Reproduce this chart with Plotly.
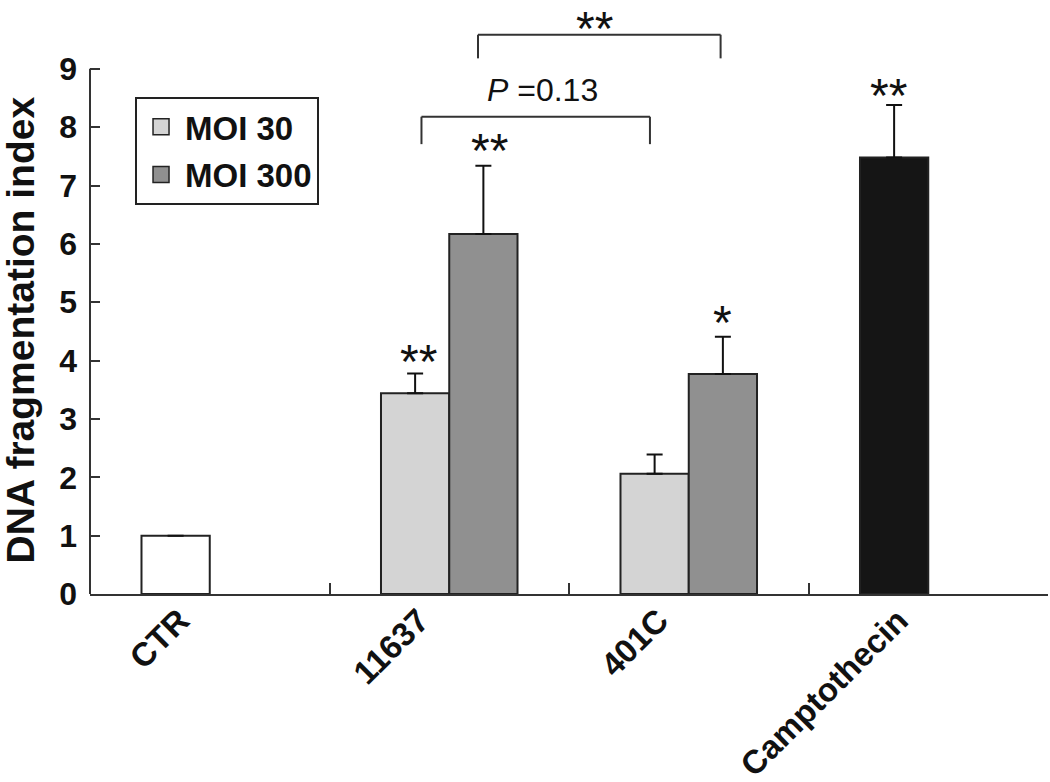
import plotly.graph_objects as go

# ---- data ----
categories = ["CTR", "11637", "401C", "Camptothecin"]
moi30_vals = [None, 3.44, 2.06, None]
moi30_err = [None, 0.34, 0.33, None]
moi300_vals = [None, 6.17, 3.77, None]
moi300_err = [None, 1.17, 0.64, None]
ref_cats = ["CTR", "Camptothecin"]
ref_vals = [1.0, 7.48]
ref_err = [None, 0.90]
ref_colors = ["#ffffff", "#151515"]
y_ticks = [0, 1, 2, 3, 4, 5, 6, 7, 8, 9]
series_names = ["MOI 30", "MOI 300"]

FONT = "Liberation Sans, Arial, Helvetica, sans-serif"
C30 = "#d4d4d4"
C300 = "#909090"
EDGE = "#222222"

fig = go.Figure()

err_style = dict(type="data", symmetric=False, color="#111111", thickness=2, width=8)

fig.add_trace(go.Bar(
    x=categories, y=moi30_vals, name=series_names[0], offsetgroup="a",
    marker=dict(color=C30, line=dict(color=EDGE, width=2)),
    error_y=dict(array=moi30_err, arrayminus=[0] * 4, **err_style),
    showlegend=False,
))
fig.add_trace(go.Bar(
    x=categories, y=moi300_vals, name=series_names[1], offsetgroup="b",
    marker=dict(color=C300, line=dict(color=EDGE, width=2)),
    error_y=dict(array=moi300_err, arrayminus=[0] * 4, **err_style),
    showlegend=False,
))
fig.add_trace(go.Bar(
    x=ref_cats, y=ref_vals, name="reference", offsetgroup="a",
    marker=dict(color=ref_colors, line=dict(color=EDGE, width=2)),
    error_y=dict(array=ref_err, arrayminus=[0, 0], **err_style),
    showlegend=False,
))

# legend entries
for nm, col in zip(series_names, [C30, C300]):
    fig.add_trace(go.Scatter(
        x=[None], y=[None], mode="markers", name=nm, legendgroup=nm,
        marker=dict(symbol="square", size=22, color=col, line=dict(color=EDGE, width=1.5)),
    ))

# y axis line (stops at 9)
shapes = [dict(type="line", xref="paper", yref="y", x0=0, x1=0, y0=0, y1=9,
               line=dict(color="#333333", width=2))]

def bracket(xa, xb, ytop, ybot):
    st = dict(type="line", xref="x", yref="y", line=dict(color="#333333", width=2))
    return [dict(x0=xa, x1=xb, y0=ytop, y1=ytop, **st),
            dict(x0=xa, x1=xa, y0=ytop, y1=ybot, **st),
            dict(x0=xb, x1=xb, y0=ytop, y1=ybot, **st)]

shapes += bracket(0.884, 1.838, 8.18, 7.71)
shapes += bracket(1.12, 2.133, 9.585, 9.18)

star_font = dict(family=FONT, size=48, color="#111111")
annotations = []
for x, y, t in [(0.870, 4.08, "**"), (1.166, 7.70, "**"), (2.139, 4.76, "*"),
                (2.832, 8.65, "**")]:
    annotations.append(dict(x=x, y=y, xref="x", yref="y", text=t, showarrow=False,
                            yanchor="middle", xanchor="center", yshift=-6, font=star_font))
# star over the top bracket, kept inside the figure
annotations.append(dict(x=1.607, y=9.945, xref="x", yref="y", text="**", showarrow=False,
                        yanchor="middle", xanchor="center", yshift=-15, font=star_font))
annotations.append(dict(x=1.391, y=8.64, xref="x", yref="y", text="<i>P</i> =0.13",
                        showarrow=False, xanchor="center", yanchor="middle",
                        font=dict(family=FONT, size=32, color="#111111")))
annotations.append(dict(x=-90 / 958, y=0.446, xref="paper", yref="paper", xshift=-3,
                        text="DNA fragmentation index", textangle=-90, showarrow=False,
                        xanchor="left", yanchor="middle",
                        font=dict(family=FONT, size=39, color="#111111", weight="bold")))

fig.update_layout(
    width=1050, height=782,
    margin=dict(l=90, r=2, t=2, b=188),
    plot_bgcolor="white", paper_bgcolor="white",
    barmode="group", bargap=0.43, bargroupgap=0,
    font=dict(family=FONT, color="#111111"),
    shapes=shapes, annotations=annotations,
    legend=dict(x=0.047, y=0.84, xanchor="left", yanchor="top",
                bordercolor=EDGE, borderwidth=2, bgcolor="white",
                font=dict(family=FONT, size=33, color="#111111", weight="bold"),
                traceorder="grouped", tracegroupgap=2, itemwidth=38),
    xaxis=dict(
        type="category", categoryorder="array", categoryarray=categories,
        range=[-0.5, 3.5], showline=True, linecolor="#333333", linewidth=2,
        ticks="inside", tickson="boundaries", ticklen=11, tickwidth=2, tickcolor="#333333",
        tickangle=-45, showgrid=False, zeroline=False, automargin=False,
        ticklabelshift=-30, ticklabelstandoff=-8,
        tickfont=dict(family=FONT, size=33, color="#111111", weight="bold"),
    ),
    yaxis=dict(
        range=[0, 10.146], tickvals=y_ticks, ticktext=[str(v) for v in y_ticks],
        showline=False, ticks="inside", ticklen=10, tickwidth=2, tickcolor="#333333",
        showgrid=False, zeroline=False, automargin=False, ticklabelstandoff=12,
        tickfont=dict(family=FONT, size=32, color="#111111", weight="bold"),
    ),
)

fig.write_html("out.html", config={"displayModeBar": False},
               post_script="document.body.style.margin='0';document.body.style.overflow='hidden';")
